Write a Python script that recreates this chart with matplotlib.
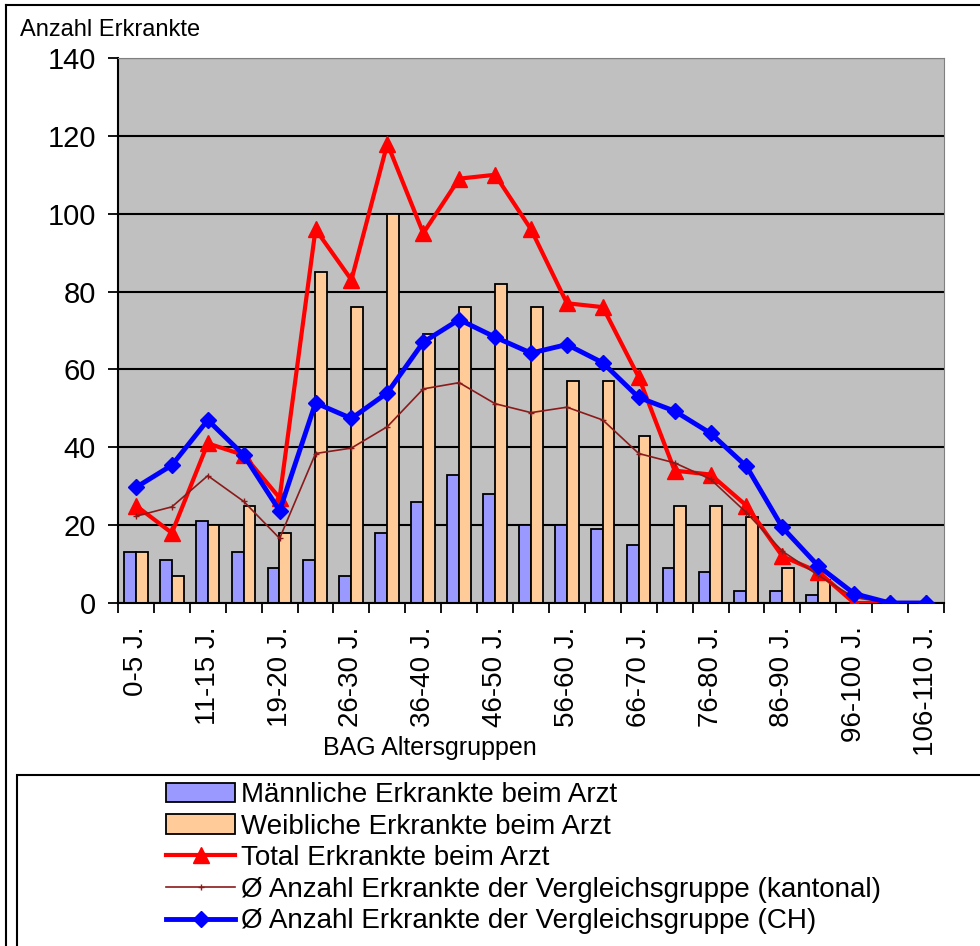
import numpy as np
import matplotlib
matplotlib.use('Agg')
import matplotlib.pyplot as plt
from matplotlib.lines import Line2D
from matplotlib.patches import Rectangle

plt.rcParams['font.family'] = ['Liberation Sans', 'DejaVu Sans']

categories = ['0-5 J.', '6-10 J.', '11-15 J.', '16-18 J.', '19-20 J.', '21-25 J.',
              '26-30 J.', '31-35 J.', '36-40 J.', '41-45 J.', '46-50 J.', '51-55 J.',
              '56-60 J.', '61-65 J.', '66-70 J.', '71-75 J.', '76-80 J.', '81-85 J.',
              '86-90 J.', '91-95 J.', '96-100 J.', '101-105 J.', '106-110 J.']
maennlich = [13, 11, 21, 13, 9, 11, 7, 18, 26, 33, 28, 20, 20, 19, 15, 9, 8, 3, 3, 2, 0, 0, 0]
weiblich = [13, 7, 20, 25, 18, 85, 76, 100, 69, 76, 82, 76, 57, 57, 43, 25, 25, 22, 9, 6, 0, 0, 0]
total = [25, 18, 41, 38, 27, 96, 83, 118, 95, 109, 110, 96, 77, 76, 58, 34, 33, 25, 12, 8, 0, 0, 0]
kantonal = [22.3, 24.7, 32.7, 26.1, 16.6, 38.4, 39.8, 45.3, 55.0, 56.6, 51.2, 48.9,
            50.3, 47.0, 38.4, 36.0, 31.8, 23.2, 13.3, 7.1, 1.4, 0, 0]
schweiz = [29.7, 35.4, 47.0, 38.0, 23.7, 51.4, 47.4, 54.0, 67.0, 72.8, 68.3, 64.2,
           66.4, 61.7, 52.8, 49.3, 43.6, 35.1, 19.4, 9.5, 2.4, 0, 0]

W, H = 980, 946
fig = plt.figure(figsize=(W / 100, H / 100), dpi=100)
ax = fig.add_axes([118 / W, 1 - 603 / H, 826 / W, 545 / H])
ax.set_facecolor('#C0C0C0')

x = np.arange(len(categories))
bw = 0.33
b1 = ax.bar(x - 0.17, maennlich, bw, color='#9999FF', edgecolor='black', linewidth=1.3, zorder=2,
            label='Männliche Erkrankte beim Arzt')
b2 = ax.bar(x + 0.16, weiblich, bw, color='#FFCC99', edgecolor='black', linewidth=1.3, zorder=2,
            label='Weibliche Erkrankte beim Arzt')
l1, = ax.plot(x, total, color='#FF0000', lw=3, marker='^', ms=12, zorder=3,
              label='Total Erkrankte beim Arzt')
l2, = ax.plot(x, kantonal, color='#8B1A1A', lw=1.2, marker='+', ms=4, mew=1, zorder=4,
              label='Ø Anzahl Erkrankte der Vergleichsgruppe (kantonal)')
l3, = ax.plot(x, schweiz, color='#0000FF', lw=3.5, marker='D', ms=8, zorder=5,
              label='Ø Anzahl Erkrankte der Vergleichsgruppe (CH)')

ax.set_xlim(-0.5, len(categories) - 0.5)
ax.set_ylim(0, 140)
ax.set_yticks(range(0, 141, 20))
ax.yaxis.grid(True, color='black', lw=1.5, zorder=1)
ax.set_axisbelow(True)
ax.tick_params(axis='y', labelsize=21, length=7, width=1.3, pad=9)

ax.set_xticks(x[::2], categories[::2], rotation=90, fontsize=20)
ax.set_xticks(np.arange(-0.5, len(categories)), minor=True)
ax.tick_params(axis='x', which='major', length=0, pad=17)
ax.tick_params(axis='x', which='minor', length=7, width=1.3)

for s in ['top', 'right']:
    ax.spines[s].set_color('#808080')
for s in ['left', 'bottom']:
    ax.spines[s].set_color('black')
    ax.spines[s].set_linewidth(1.5)

fig.text(20 / W, 1 - 36 / H, 'Anzahl Erkrankte', fontsize=17, va='baseline', ha='left')
fig.text(430 / W, 1 - 748 / H, 'BAG Altersgruppen', fontsize=18, va='center', ha='center')

# outer frame and legend box
fig.add_artist(Line2D([6 / W, 6 / W], [0, 1 - 5 / H], color='black', lw=1.5))
fig.add_artist(Line2D([6 / W, 1], [1 - 5 / H, 1 - 5 / H], color='black', lw=1.5))
fig.add_artist(Rectangle((17 / W, -0.05), 1, (1 - 775 / H) + 0.05, fill=False,
                         edgecolor='black', lw=1.5, transform=fig.transFigure))

fig.legend(handles=[b1, b2, l1, l2, l3], loc='upper left',
           bbox_to_anchor=(166 / W, 1 - 782 / H), frameon=False,
           fontsize=20, handlelength=2.5, handletextpad=0.2, labelspacing=0.2,
           borderpad=0, borderaxespad=0)

fig.savefig('out.png', dpi=100)
